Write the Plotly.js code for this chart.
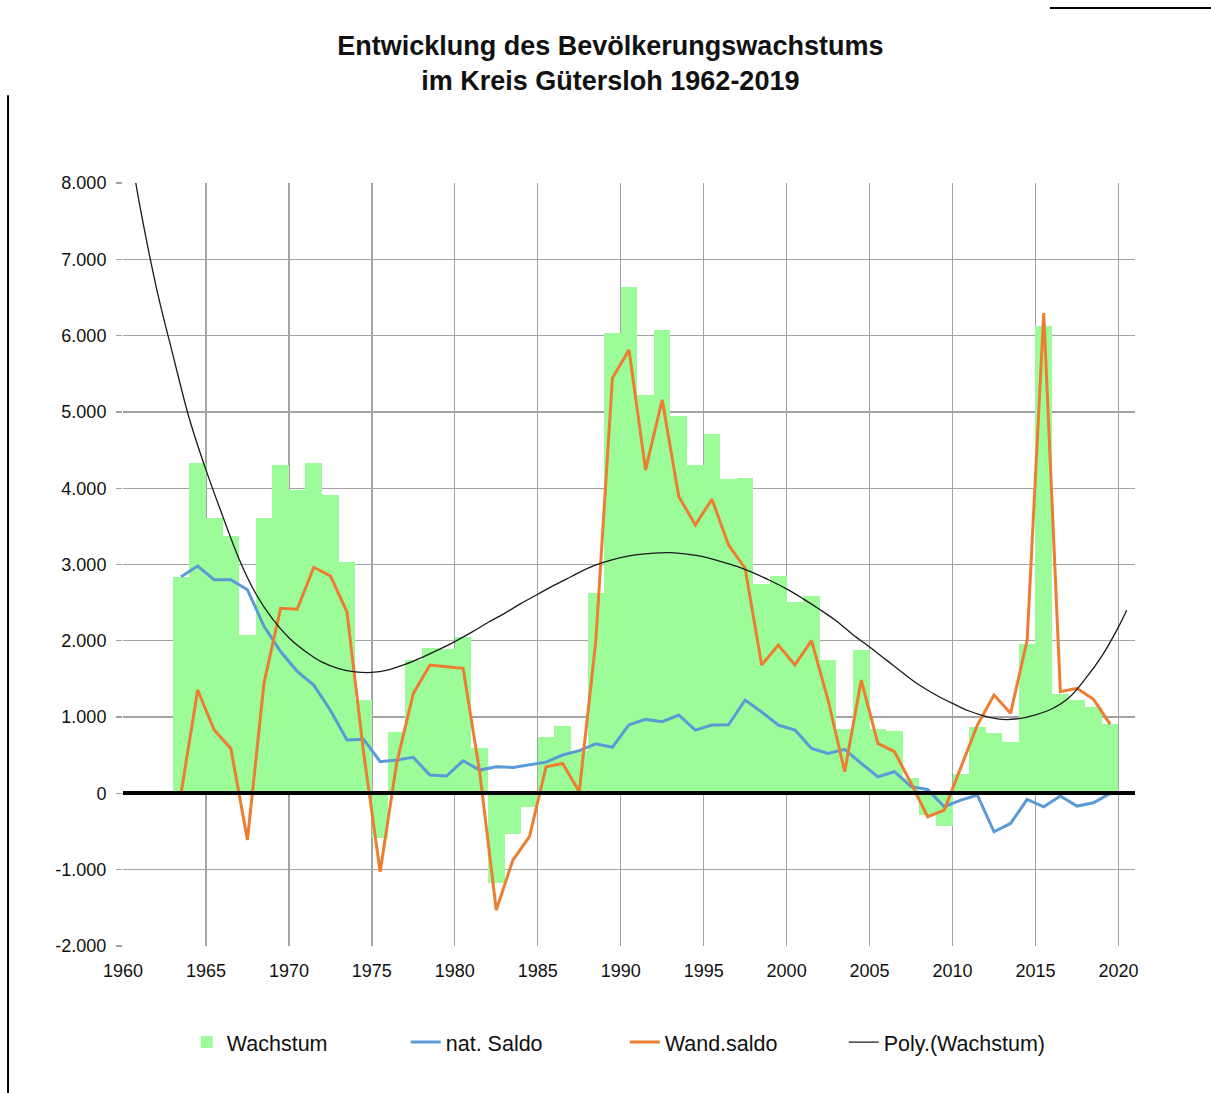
<!DOCTYPE html>
<html>
<head>
<meta charset="utf-8">
<script src="https://cdn.plot.ly/plotly-3.0.1.min.js"></script>
<style>
  html, body { margin: 0; padding: 0; background: #ffffff; }
  #chart { width: 1211px; height: 1093px; }
</style>
</head>
<body>
<div id="chart"></div>
<script>
// ---- Data ----
const years = [1963, 1964, 1965, 1966, 1967, 1968, 1969, 1970, 1971, 1972,
               1973, 1974, 1975, 1976, 1977, 1978, 1979, 1980, 1981, 1982,
               1983, 1984, 1985, 1986, 1987, 1988, 1989, 1990, 1991, 1992,
               1993, 1994, 1995, 1996, 1997, 1998, 1999, 2000, 2001, 2002,
               2003, 2004, 2005, 2006, 2007, 2008, 2009, 2010, 2011, 2012,
               2013, 2014, 2015, 2016, 2017, 2018, 2019];

const wachstum = [2830, 4330, 3610, 3370, 2070, 3610, 4300, 3970, 4330, 3910,
                  3030, 1230, -590, 810, 1750, 1900, 1890, 2050, 590, -1170,
                  -530, -175, 740, 880, 550, 2630, 6040, 6640, 5220, 6080,
                  4940, 4300, 4710, 4120, 4140, 2750, 2850, 2510, 2590, 1750,
                  850, 1880, 850, 815, 200, -285, -430, 260, 870, 790,
                  670, 1960, 6130, 1300, 1225, 1135, 910];

const natSaldo = [2840, 2980, 2800, 2800, 2670, 2190, 1860, 1600, 1420, 1090,
                  700, 710, 415, 437, 472, 240, 227, 428, 306, 350,
                  341, 371, 410, 503, 560, 650, 605, 900, 970, 940,
                  1027, 830, 896, 900, 1224, 1066, 896, 830, 590, 524,
                  577, 393, 218, 284, 88, 52, -175, -88, -22, -503,
                  -394, -79, -175, -35, -166, -122, 0];

const wandSaldo = [0, 1355, 830, 590, -609, 1450, 2426, 2413, 2964, 2850,
                   2380, 540, -1028, 400, 1311, 1683, 1661, 1639, 280, -1530,
                   -874, -568, 350, 393, 22, 2000, 5443, 5813, 4240, 5159,
                   3890, 3519, 3856, 3256, 2951, 1683, 1945, 1683, 2003, 1224,
                   284, 1486, 656, 546, 135, -306, -219, 350, 896, 1290,
                   1049, 2010, 6295, 1333, 1377, 1233, 909];

// Polynomial trend line "Poly.(Wachstum)"
const trendX = [1960.5, 1961, 1962, 1963, 1964, 1965, 1966, 1967, 1968, 1969,
                1970, 1971, 1972, 1973, 1974, 1975, 1976, 1977, 1978, 1979,
                1980, 1981, 1982, 1983, 1984, 1985, 1986, 1987, 1988, 1989,
                1990, 1991, 1992, 1993, 1994, 1995, 1996, 1997, 1998, 1999,
                2000, 2001, 2002, 2003, 2004, 2005, 2006, 2007, 2008, 2009,
                2010, 2011, 2012, 2013, 2014, 2015, 2016, 2017, 2018, 2019,
                2020, 2020.5];
const trendY = [8350, 7720, 6640, 5755, 4910, 4240, 3640, 3070, 2620, 2290,
                2040, 1860, 1720, 1635, 1592, 1585, 1620, 1690, 1780, 1880,
                1990, 2110, 2240, 2360, 2490, 2610, 2730, 2840, 2950, 3030,
                3090, 3130, 3150, 3155, 3135, 3100, 3040, 2975, 2890, 2790,
                2680, 2550, 2410, 2260, 2080, 1920, 1750, 1580, 1420, 1290,
                1180, 1080, 1010, 970, 980, 1030, 1110, 1250, 1500, 1800,
                2180, 2400];

const xTickVals = [1960, 1965, 1970, 1975, 1980, 1985, 1990, 1995, 2000, 2005, 2010, 2015, 2020];
const xTickText = ['1960', '1965', '1970', '1975', '1980', '1985', '1990', '1995', '2000', '2005', '2010', '2015', '2020'];
const yTickVals = [-2000, -1000, 0, 1000, 2000, 3000, 4000, 5000, 6000, 7000, 8000];
const yTickText = ['-2.000', '-1.000', '0', '1.000', '2.000', '3.000', '4.000', '5.000', '6.000', '7.000', '8.000'];

const seriesNames = ['Wachstum', 'nat. Saldo', 'Wand.saldo', 'Poly.(Wachstum)'];
const chartTitle = 'Entwicklung des Bevölkerungswachstums<br>im Kreis Gütersloh 1962-2019';

// ---- Chart ----
const FONT = 'Liberation Sans, Arial, sans-serif';
const mid = years.map(y => y + 0.5);   // lines drawn at the bar centres

const traces = [
  {
    type: 'bar', name: seriesNames[0],
    x: years, y: wachstum, width: 1, offset: 0,
    marker: { color: '#9cfc9a', line: { width: 0 } },
    hoverinfo: 'x+y'
  },
  {
    type: 'scatter', mode: 'lines', name: seriesNames[1],
    x: mid, y: natSaldo,
    line: { color: '#5b9bd5', width: 3 }
  },
  {
    type: 'scatter', mode: 'lines', name: seriesNames[2],
    x: mid, y: wandSaldo,
    line: { color: '#ed7d31', width: 3 }
  },
  {
    type: 'scatter', mode: 'lines', name: seriesNames[3],
    x: trendX, y: trendY,
    line: { color: '#1a1a1a', width: 1.3, shape: 'spline', smoothing: 1 }
  }
];

const layout = {
  width: 1211, height: 1093,
  paper_bgcolor: '#ffffff', plot_bgcolor: '#ffffff',
  margin: { l: 123, r: 76, t: 183, b: 147 },
  font: { family: FONT, color: '#111', size: 18 },
  title: {
    text: chartTitle,
    font: { family: FONT, size: 27, color: '#111', weight: 'bold' },
    x: 0.504, xanchor: 'center', xref: 'container',
    y: 0.950, yanchor: 'top', yref: 'container'
  },
  showlegend: true,
  legend: {
    orientation: 'h', x: 0.063, xanchor: 'left', y: -0.126, yanchor: 'middle',
    font: { family: FONT, size: 21.5, color: '#111' },
    entrywidth: 174, entrywidthmode: 'pixels',
    bgcolor: 'rgba(0,0,0,0)', traceorder: 'normal'
  },
  bargap: 0,
  xaxis: {
    range: [1960, 2021], tickvals: xTickVals, ticktext: xTickText,
    showgrid: true, gridcolor: '#a3a3a3', gridwidth: 1.3,
    zeroline: false, showline: false, ticks: '',
    ticklabelstandoff: 12,
    tickfont: { family: FONT, size: 18, color: '#111' },
    fixedrange: true
  },
  yaxis: {
    range: [-2000, 8000], tickvals: yTickVals, ticktext: yTickText,
    showgrid: true, gridcolor: '#a3a3a3', gridwidth: 1.3,
    ticks: 'outside', ticklen: 6, tickcolor: '#a3a3a3', tickwidth: 1.3,
    zeroline: true, zerolinecolor: '#000000', zerolinewidth: 4,
    zerolinelayer: 'above traces',
    showline: false, ticklabelstandoff: 6,
    tickfont: { family: FONT, size: 18, color: '#111' },
    fixedrange: true
  },
  shapes: [
    { type: 'line', xref: 'paper', yref: 'paper', x0: 0.916, x1: 1.08, y0: 1.2294, y1: 1.2294,
      line: { color: '#000', width: 2 } },
    { type: 'line', xref: 'paper', yref: 'paper', x0: -0.1136, x1: -0.1136, y0: 1.115, y1: -0.2,
      line: { color: '#000', width: 2 } }
  ]
};

Plotly.newPlot('chart', traces, layout, { displayModeBar: false, staticPlot: true });
</script>
</body>
</html>
